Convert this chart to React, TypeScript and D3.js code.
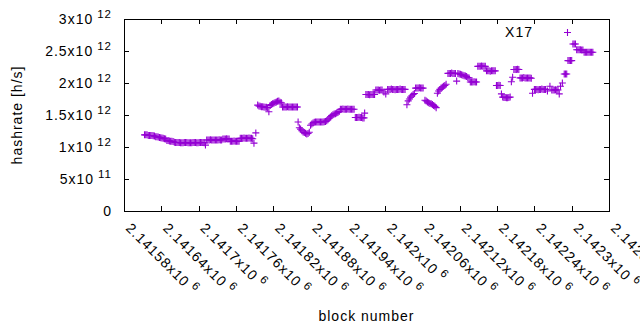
import React, { useRef, useEffect } from 'react';
import { select, scaleLinear, range, format } from 'd3';

// block heights (x) and estimated network hashrate in units of 10^12 h/s (y)
const blockNumbers = [
  2141613, 2141615, 2141617, 2141619, 2141621, 2141623, 2141625, 2141627, 2141629,
  2141631, 2141633, 2141635, 2141637, 2141639, 2141641, 2141643, 2141645, 2141647,
  2141649, 2141651, 2141653, 2141655, 2141657, 2141659,
  2141661, 2141663, 2141665, 2141667, 2141669, 2141671, 2141673, 2141675, 2141677, 2141679, 2141681, 2141683, 2141685,
  2141687, 2141689, 2141691, 2141693, 2141695, 2141697, 2141699, 2141701, 2141703, 2141705, 2141707, 2141709,
  2141711,
  2141713, 2141715, 2141717, 2141719, 2141721, 2141723, 2141725, 2141727, 2141729, 2141731, 2141733, 2141735, 2141737,
  2141739, 2141741, 2141743, 2141745, 2141747, 2141749,
  2141751, 2141753, 2141755, 2141757, 2141759, 2141761, 2141763, 2141765,
  2141767, 2141769, 2141771, 2141773, 2141775, 2141777, 2141779, 2141781, 2141783, 2141785, 2141787,
  2141789, 2141792,
  2141795, 2141797, 2141799, 2141801, 2141803, 2141805, 2141807, 2141809, 2141811, 2141813,
  2141815, 2141817, 2141819, 2141821, 2141823, 2141825, 2141827, 2141829, 2141831, 2141833,
  2141835, 2141837, 2141839, 2141841, 2141843, 2141845, 2141847, 2141849, 2141851, 2141853, 2141855, 2141857, 2141859,
  2141860,
  2141862, 2141864, 2141866, 2141868, 2141870, 2141872, 2141874, 2141876, 2141878,
  2141880, 2141882, 2141884, 2141886, 2141888, 2141890, 2141892, 2141894, 2141896, 2141898, 2141900, 2141902, 2141904, 2141906, 2141908,
  2141910, 2141912, 2141914, 2141916, 2141918, 2141920, 2141922, 2141924, 2141926,
  2141928, 2141930, 2141932, 2141934, 2141936, 2141938, 2141940, 2141942, 2141944, 2141946, 2141948, 2141950,
  2141952, 2141954, 2141956, 2141958, 2141960, 2141962, 2141964, 2141966, 2141967,
  2141969, 2141971, 2141973, 2141975, 2141977, 2141979, 2141981, 2141983,
  2141985, 2141987, 2141989, 2141991, 2141993, 2141995,
  2141998, 2142001,
  2142004, 2142006, 2142008, 2142010, 2142012, 2142014, 2142016, 2142018, 2142020, 2142022, 2142024, 2142026, 2142028, 2142030, 2142032,
  2142035,
  2142037, 2142039, 2142041, 2142043, 2142045, 2142047,
  2142049, 2142051, 2142053, 2142055, 2142057, 2142059, 2142061,
  2142064,
  2142066, 2142068, 2142070, 2142072, 2142074, 2142076, 2142078, 2142080, 2142082,
  2142084,
  2142086, 2142088, 2142090, 2142092, 2142094, 2142096, 2142098,
  2142101, 2142103, 2142105, 2142107, 2142109, 2142111, 2142113,
  2142115,
  2142117, 2142119, 2142121, 2142123, 2142125, 2142127, 2142129, 2142131, 2142133, 2142135,
  2142137, 2142139, 2142141, 2142143, 2142145, 2142147,
  2142149, 2142151, 2142153, 2142155, 2142157, 2142159, 2142161,
  2142163, 2142165, 2142167, 2142169, 2142171, 2142173, 2142175, 2142177,
  2142179, 2142181, 2142183, 2142185,
  2142187,
  2142189, 2142191, 2142193, 2142195, 2142197, 2142199, 2142201,
  2142203, 2142205,
  2142207, 2142209, 2142211, 2142213, 2142215,
  2142217, 2142219, 2142221, 2142223, 2142225, 2142227, 2142229, 2142231, 2142233, 2142235,
  2142237,
  2142240, 2142242, 2142244, 2142246, 2142248, 2142250, 2142252, 2142254, 2142256, 2142258,
  2142261, 2142265,
  2142268, 2142270, 2142272, 2142274, 2142276, 2142278, 2142280,
  2142282, 2142285,
  2142288, 2142290, 2142292,
  2142294, 2142296, 2142298, 2142300,
  2142302, 2142304, 2142306,
  2142308, 2142310, 2142312, 2142314, 2142316, 2142318,
  2142320, 2142322, 2142324, 2142326, 2142328, 2142330, 2142332, 2142334,
];

const hashrateTH = [
  1.19, 1.19, 1.19, 1.18, 1.18, 1.18, 1.18, 1.175, 1.17,
  1.16, 1.16, 1.155, 1.15, 1.145, 1.14, 1.135, 1.13, 1.125,
  1.10, 1.10, 1.095, 1.09, 1.09, 1.085,
  1.075, 1.07, 1.07, 1.07, 1.07, 1.065, 1.065, 1.065, 1.07, 1.07, 1.07, 1.065, 1.065,
  1.065, 1.065, 1.07, 1.07, 1.07, 1.065, 1.065, 1.07, 1.07, 1.07, 1.07, 1.065,
  1.03,
  1.11, 1.11, 1.11, 1.115, 1.11, 1.11, 1.11, 1.11, 1.11, 1.11, 1.115, 1.11, 1.11,
  1.125, 1.125, 1.125, 1.13, 1.125, 1.125,
  1.09, 1.09, 1.09, 1.095, 1.09, 1.09, 1.09, 1.09,
  1.135, 1.135, 1.135, 1.14, 1.135, 1.135, 1.135, 1.14, 1.135, 1.135, 1.13,
  1.06, 1.22,
  1.655, 1.64, 1.635, 1.63, 1.63, 1.625, 1.62, 1.62, 1.615, 1.55,
  1.65, 1.665, 1.675, 1.685, 1.695, 1.705, 1.715, 1.72, 1.70, 1.69,
  1.625, 1.625, 1.625, 1.625, 1.63, 1.625, 1.625, 1.625, 1.625, 1.625, 1.625, 1.625, 1.625,
  1.39,
  1.30, 1.28, 1.255, 1.235, 1.225, 1.215, 1.205, 1.21, 1.23,
  1.34, 1.36, 1.375, 1.385, 1.39, 1.39, 1.39, 1.39, 1.39, 1.39, 1.39, 1.395, 1.40, 1.41, 1.425,
  1.45, 1.47, 1.49, 1.505, 1.515, 1.52, 1.53, 1.54, 1.555,
  1.59, 1.59, 1.595, 1.59, 1.59, 1.59, 1.595, 1.59, 1.59, 1.59, 1.59, 1.59,
  1.46, 1.46, 1.46, 1.465, 1.46, 1.46, 1.455, 1.455, 1.53,
  1.82, 1.82, 1.82, 1.815, 1.82, 1.82, 1.82, 1.82,
  1.89, 1.89, 1.89, 1.885, 1.89, 1.89,
  1.86, 1.83,
  1.90, 1.90, 1.90, 1.905, 1.90, 1.90, 1.895, 1.90, 1.90, 1.90, 1.905, 1.90, 1.90, 1.90, 1.90,
  1.66,
  1.72, 1.75, 1.78, 1.80, 1.82, 1.835,
  1.92, 1.92, 1.92, 1.925, 1.92, 1.92, 1.92,
  1.73,
  1.72, 1.705, 1.69, 1.68, 1.675, 1.665, 1.65, 1.635, 1.615,
  1.84,
  1.875, 1.90, 1.92, 1.935, 1.95, 1.96, 1.98,
  2.15, 2.15, 2.15, 2.155, 2.15, 2.15, 2.15,
  2.03,
  2.15, 2.14, 2.135, 2.13, 2.12, 2.115, 2.11, 2.10, 2.085, 2.08,
  2.015, 2.015, 2.015, 2.02, 2.015, 2.015,
  2.26, 2.26, 2.26, 2.265, 2.26, 2.26, 2.26,
  2.19, 2.19, 2.19, 2.185, 2.19, 2.19, 2.19, 2.19,
  1.96, 1.96, 1.965, 1.96,
  1.83,
  1.78, 1.775, 1.775, 1.77, 1.77, 1.775, 1.78,
  2.02, 2.09,
  2.21, 2.21, 2.21, 2.215, 2.21,
  2.08, 2.08, 2.08, 2.085, 2.08, 2.08, 2.08, 2.08, 2.08, 2.075,
  1.84,
  1.90, 1.90, 1.90, 1.895, 1.90, 1.90, 1.905, 1.90, 1.90, 1.90,
  1.875, 1.95,
  1.89, 1.89, 1.89, 1.895, 1.89, 1.89, 1.83,
  1.95, 2.0,
  2.14, 2.14, 2.14,
  2.35, 2.35, 2.35, 2.35,
  2.61, 2.61, 2.61,
  2.52, 2.52, 2.52, 2.52, 2.515, 2.515,
  2.48, 2.48, 2.48, 2.48, 2.48, 2.48, 2.48, 2.48,
];

const xTicks = range(2141580, 2142361, 60);
const yTicks = [0, 0.5e12, 1e12, 1.5e12, 2e12, 2.5e12, 3e12];
const seriesTitle = 'X17';

const W = 640, H = 330;
const margin = { left: 124, right: 31, top: 19, bottom: 119 };
const FONT = '"Liberation Sans", Arial, sans-serif';
const COLOR = '#9400d3';

// splits 2.5e12 -> ["2.5x10", "12"], gnuplot style mantissa x10^exp
const sci = (v: number) => {
  if (v === 0) return ['0', ''];
  const e = Math.floor(Math.log10(Math.abs(v)) + 1e-9);
  const m = format('.6~g')(v / Math.pow(10, e));
  return [m + 'x10', String(e)];
};

export default function App() {
  const svgRef = useRef<SVGSVGElement>(null);

  useEffect(() => {
    const svg = select(svgRef.current);
    svg.selectAll('*').remove();

    const x = scaleLinear()
      .domain([2141580, 2142360])
      .range([margin.left, W - margin.right]);
    const y = scaleLinear()
      .domain([0, 3e12])
      .range([H - margin.bottom, margin.top]);

    const x0 = margin.left, x1 = W - margin.right;
    const y0 = H - margin.bottom, y1 = margin.top;

    svg.append('rect').attr('width', W).attr('height', H).attr('fill', '#fff');

    const axis = svg.append('g')
      .attr('stroke', '#000')
      .attr('stroke-width', 1)
      .attr('shape-rendering', 'crispEdges');

    // y ticks, mirrored on right
    yTicks.forEach(t => {
      const yy = Math.round(y(t)) + 0.5;
      axis.append('line').attr('x1', x0).attr('x2', x0 + 5).attr('y1', yy).attr('y2', yy);
      axis.append('line').attr('x1', x1 - 5).attr('x2', x1).attr('y1', yy).attr('y2', yy);
    });
    // x ticks, mirrored on top
    xTicks.forEach(t => {
      const xx = Math.round(x(t)) + 0.5;
      axis.append('line').attr('x1', xx).attr('x2', xx).attr('y1', y0).attr('y2', y0 - 5);
      axis.append('line').attr('x1', xx).attr('x2', xx).attr('y1', y1).attr('y2', y1 + 5);
    });
    axis.append('rect')
      .attr('x', x0 + 0.5).attr('y', y1 + 0.5)
      .attr('width', x1 - x0).attr('height', y0 - y1)
      .attr('fill', 'none');

    const txt = svg.append('g')
      .attr('font-family', FONT)
      .attr('font-size', 14)
      .attr('letter-spacing', 1)
      .attr('fill', '#000');

    // y tick labels
    yTicks.forEach(t => {
      const [m, e] = sci(t);
      const tx = txt.append('text')
        .attr('x', 112)
        .attr('y', Math.round(y(t)) + 5)
        .attr('text-anchor', 'end');
      tx.append('tspan').text(m);
      if (e) tx.append('tspan').attr('dx', 4).attr('dy', -6).attr('font-size', 11.5).text(e);
    });

    // x tick labels rotated
    xTicks.forEach(t => {
      const [m, e] = sci(t);
      const tx = txt.append('text')
        .attr('transform', `translate(${x(t) + 1},229) rotate(45)`);
      tx.append('tspan').text(m);
      if (e) tx.append('tspan').attr('dx', 4).attr('dy', -6).attr('font-size', 11.5).text(e);
    });

    txt.append('text')
      .attr('x', (x0 + x1) / 2).attr('y', 321)
      .attr('text-anchor', 'middle')
      .text('block number');
    txt.append('text')
      .attr('transform', `translate(22,${(y0 + y1) / 2}) rotate(-90)`)
      .attr('text-anchor', 'middle')
      .text('hashrate [h/s]');

    // key
    txt.append('text')
      .attr('x', 533).attr('y', 37)
      .attr('text-anchor', 'end')
      .text(seriesTitle);

    const plus = (cx: number, cy: number) =>
      `M${cx - 3.5},${cy}h7M${cx},${cy - 3.5}v7`;

    svg.append('path')
      .attr('d', plus(567.5, 32.5))
      .attr('stroke', COLOR)
      .attr('stroke-width', 1.1)
      .attr('fill', 'none');

    svg.append('g')
      .attr('stroke', COLOR)
      .attr('stroke-width', 1.1)
      .attr('fill', 'none')
      .selectAll('path')
      .data(blockNumbers.map((b, i) => [b, hashrateTH[i] * 1e12]))
      .join('path')
      .attr('d', d => plus(x(d[0]), y(d[1])));
  }, []);

  return (
    <svg
      ref={svgRef}
      width={W}
      height={H}
      style={{ position: 'absolute', left: 0, top: 0 }}
    />
  );
}
